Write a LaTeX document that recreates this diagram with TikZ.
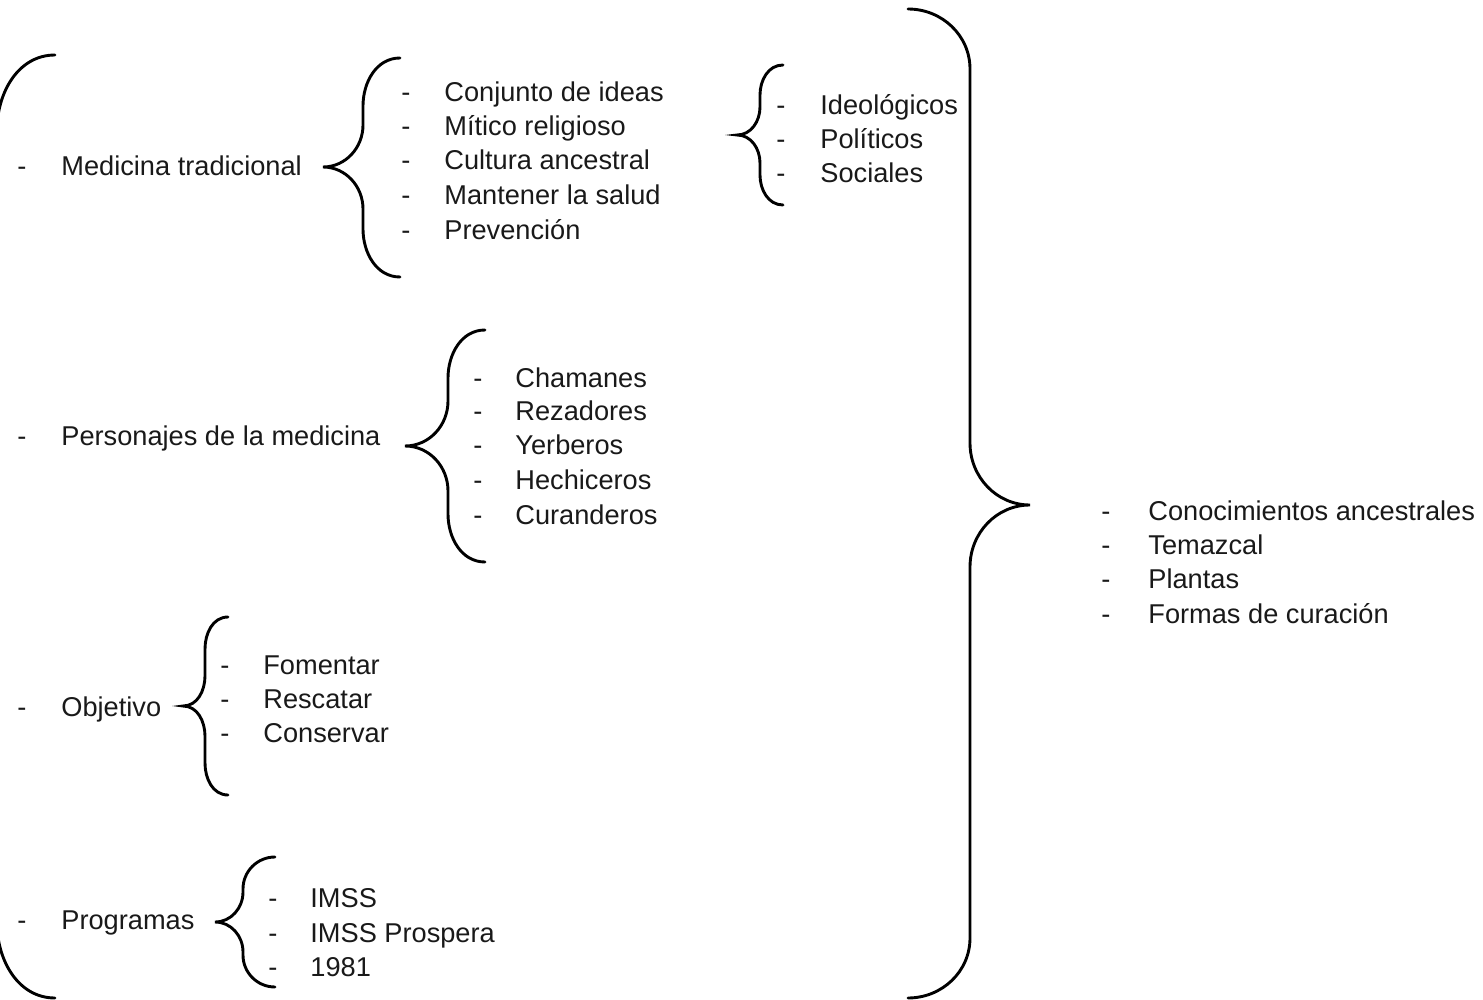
\documentclass[tikz,border=0pt]{standalone}
\usepackage{fontspec}
\setmainfont{Liberation Sans}
\newcommand\brLeft[8]{%
  \draw[bracestyle] (#1,#2) to[out=180,in=90] (#4,{#2+#7}) -- (#4,{#6-#8})
    to[out=-90,in=0] (#5,#6) to[out=0,in=90] (#4,{#6+#8}) -- (#4,{#3-#7})
    to[out=-90,in=180] (#1,#3);}
\newcommand\brRight[8]{%
  \draw[bracestyle] (#1,#2) to[out=0,in=90] (#4,{#2+#7}) -- (#4,{#6-#8})
    to[out=-90,in=180] (#5,#6) to[out=180,in=90] (#4,{#6+#8}) -- (#4,{#3-#7})
    to[out=-90,in=0] (#1,#3);}
\newcommand\itm[2]{\makebox[#1][l]{-}#2}
\begin{document}
\begin{tikzpicture}[x=0.5pt,y=-0.5pt,
  bracestyle/.style={line width=1.45pt,black,line cap=round},
  item/.style={anchor=base west,inner sep=0pt,font=\fontsize{13.6pt}{16pt}\selectfont,text=black!90}]
\useasboundingbox (0,0) rectangle (1483,1000);
\clip (0,0) rectangle (1483,1000);
% braces
\brLeft{55}{55}{998}{-3}{-60}{527}{75}{60}
\brLeft{400}{58}{277}{363}{323}{167}{48}{42}
\brLeft{783}{65}{205}{760}{737}{135}{30}{28}
\brLeft{485}{330}{562}{448}{405}{446}{48}{45}
\brLeft{228}{617}{795}{205}{183}{706}{32}{30}
\brLeft{275}{857}{987}{243}{215}{922}{32}{30}
\brRight{908}{9}{998}{970}{1030}{505}{60}{62}
% left column
\node[item] (l1) at (17,176) {\itm{22pt}{Medicina tradicional}};
\node[item] (l2) at (17,445) {\itm{22pt}{Personajes de la medicina}};
\node[item] (l3) at (17,716) {\itm{22pt}{Objetivo}};
\node[item] (l4) at (17,929) {\itm{22pt}{Programas}};
% medicina tradicional
\node[item] (m1) at (401,102) {\itm{21.5pt}{Conjunto de ideas}};
\node[item] (m2) at (401,136) {\itm{21.5pt}{Mítico religioso}};
\node[item] (m3) at (401,170) {\itm{21.5pt}{Cultura ancestral}};
\node[item] (m4) at (401,205) {\itm{21.5pt}{Mantener la salud}};
\node[item] (m5) at (401,240) {\itm{21.5pt}{Prevención}};
% ideologicos
\node[item] (i1) at (776,115) {\itm{22pt}{Ideológicos}};
\node[item] (i2) at (776,149) {\itm{22pt}{Políticos}};
\node[item] (i3) at (776,183) {\itm{22pt}{Sociales}};
% personajes
\node[item] (p1) at (473,387) {\itm{21pt}{Chamanes}};
\node[item] (p2) at (473,420) {\itm{21pt}{Rezadores}};
\node[item] (p3) at (473,454) {\itm{21pt}{Yerberos}};
\node[item] (p4) at (473,489) {\itm{21pt}{Hechiceros}};
\node[item] (p5) at (473,524) {\itm{21pt}{Curanderos}};
% objetivo
\node[item] (o1) at (220,674) {\itm{21.5pt}{Fomentar}};
\node[item] (o2) at (220,708) {\itm{21.5pt}{Rescatar}};
\node[item] (o3) at (220,742) {\itm{21.5pt}{Conservar}};
% programas
\node[item] (g1) at (268,907) {\itm{21pt}{IMSS}};
\node[item] (g2) at (268,942) {\itm{21pt}{IMSS Prospera}};
\node[item] (g3) at (268,976) {\itm{21pt}{1981}};
% right
\node[item] (r1) at (1101,520) {\itm{23.5pt}{Conocimientos ancestrales}};
\node[item] (r2) at (1101,554) {\itm{23.5pt}{Temazcal}};
\node[item] (r3) at (1101,588) {\itm{23.5pt}{Plantas}};
\node[item] (r4) at (1101,623) {\itm{23.5pt}{Formas de curación}};
\end{tikzpicture}
\end{document}
